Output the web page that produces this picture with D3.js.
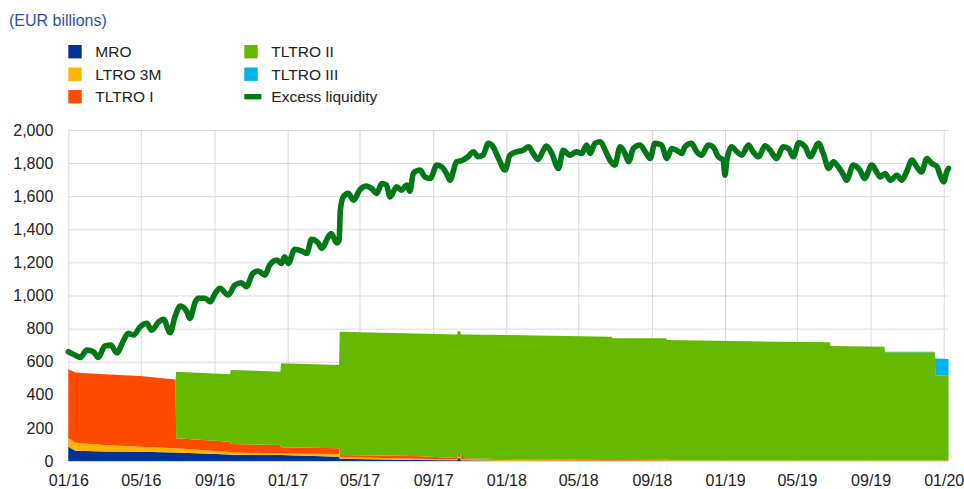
<!DOCTYPE html>
<html>
<head>
<meta charset="utf-8">
<script src="https://cdn.jsdelivr.net/npm/d3@7"></script>
<style>
  body { margin: 0; background: #fff; }
  svg { display: block; font-family: Arial, 'Liberation Sans', sans-serif; }
</style>
</head>
<body>
<div id="chart"></div>
<script>
// excess liquidity
const elDates = [
    '2016-01-01','2016-01-12','2016-01-21','2016-02-01','2016-02-12','2016-02-20','2016-03-02','2016-03-12',
    '2016-03-22','2016-04-02','2016-04-10','2016-04-19','2016-04-30','2016-05-11','2016-05-19','2016-05-31',
    '2016-06-08','2016-06-19','2016-06-27','2016-07-06','2016-07-17','2016-07-22','2016-07-31','2016-08-05',
    '2016-08-16','2016-08-25','2016-09-02','2016-09-10','2016-09-24','2016-10-05','2016-10-16','2016-10-24',
    '2016-11-04','2016-11-13','2016-11-24','2016-12-02','2016-12-14','2016-12-22','2016-12-27','2017-01-02',
    '2017-01-13','2017-01-24','2017-02-02','2017-02-10','2017-02-21','2017-02-27','2017-03-10','2017-03-15',
    '2017-03-24','2017-03-28','2017-03-30','2017-04-04','2017-04-12','2017-04-21','2017-05-02','2017-05-13',
    '2017-05-21','2017-05-30','2017-06-07','2017-06-15','2017-06-21','2017-07-02','2017-07-10','2017-07-19',
    '2017-07-24','2017-07-30','2017-08-10','2017-08-18','2017-08-27','2017-09-07','2017-09-15','2017-09-23',
    '2017-09-29','2017-10-10','2017-10-21','2017-10-29','2017-11-07','2017-11-15','2017-11-23','2017-12-02',
    '2017-12-10','2017-12-19','2017-12-30','2018-01-07','2018-01-18','2018-01-29','2018-02-07','2018-02-15',
    '2018-02-23','2018-03-04','2018-03-09','2018-03-18','2018-03-29','2018-04-06','2018-04-17','2018-04-28',
    '2018-05-07','2018-05-15','2018-05-21','2018-05-29','2018-06-07','2018-06-15','2018-06-23','2018-07-01',
    '2018-07-10','2018-07-18','2018-07-24','2018-08-01','2018-08-12','2018-08-21','2018-08-29','2018-09-06',
    '2018-09-17','2018-09-26','2018-10-04','2018-10-12','2018-10-21','2018-10-26','2018-11-06','2018-11-15',
    '2018-11-23','2018-12-04','2018-12-12','2018-12-21','2018-12-29','2019-01-01','2019-01-04','2019-01-12',
    '2019-01-21','2019-01-29','2019-02-09','2019-02-17','2019-02-26','2019-03-09','2019-03-17','2019-03-28',
    '2019-04-08','2019-04-17','2019-04-25','2019-05-04','2019-05-15','2019-05-23','2019-06-06','2019-06-14',
    '2019-06-23','2019-07-01','2019-07-09','2019-07-18','2019-07-23','2019-08-03','2019-08-14','2019-08-22',
    '2019-09-03','2019-09-11','2019-09-17','2019-09-25','2019-10-04','2019-10-15','2019-10-23','2019-10-31',
    '2019-11-09','2019-11-17','2019-11-25','2019-12-04','2019-12-12','2019-12-21','2019-12-26','2020-01-01',
    '2020-01-06','2020-01-09'
];
const elValues = [
    660, 640, 626, 670, 660, 626, 695, 700,
    654, 727, 771, 761, 811, 832, 791, 841,
    856, 775, 872, 936, 902, 862, 962, 983,
    983, 962, 1013, 1043, 1003, 1063, 1077, 1053,
    1134, 1148, 1123, 1184, 1214, 1194, 1234, 1194,
    1279, 1270, 1254, 1339, 1318, 1285, 1355, 1375,
    1318, 1335, 1516, 1596, 1617, 1576, 1641, 1661,
    1647, 1617, 1677, 1667, 1596, 1657, 1637, 1667,
    1630, 1740, 1758, 1717, 1707, 1788, 1778, 1738,
    1697, 1808, 1818, 1838, 1868, 1838, 1848, 1919,
    1898, 1828, 1758, 1848, 1868, 1878, 1898, 1858,
    1822, 1878, 1903, 1858, 1768, 1878, 1848, 1868,
    1858, 1909, 1858, 1919, 1929, 1878, 1818, 1788,
    1898, 1858, 1808, 1888, 1909, 1868, 1828, 1919,
    1909, 1828, 1888, 1878, 1858, 1898, 1919, 1868,
    1848, 1909, 1898, 1838, 1818, 1727, 1818, 1898,
    1868, 1848, 1909, 1868, 1838, 1905, 1880, 1828,
    1898, 1888, 1838, 1923, 1898, 1838, 1919, 1858,
    1768, 1808, 1778, 1727, 1697, 1788, 1758, 1707,
    1788, 1747, 1717, 1737, 1697, 1727, 1697, 1747,
    1818, 1778, 1747, 1828, 1798, 1778, 1727, 1687,
    1747, 1768
];

// outstanding operations (stacked), dates where the amounts change
const opDates = [
    '2016-01-01','2016-01-13','2016-03-01','2016-04-30','2016-06-28','2016-06-29','2016-09-27','2016-09-28',
    '2016-12-20','2016-12-21','2017-03-28','2017-03-29','2017-08-01','2017-10-11','2017-10-12','2017-10-16',
    '2017-10-17','2018-01-01','2018-06-26','2018-06-27','2018-09-25','2018-09-26','2019-03-26','2019-06-25',
    '2019-06-26','2019-09-24','2019-09-25','2019-12-17','2019-12-18','2020-01-09'
];
const mro    = [86, 62, 58, 56, 52, 52, 40, 38, 36, 36, 26, 14, 6, 4, 16, 16, 4, 2, 1, 1, 2, 2, 2, 2, 2, 2, 2, 2, 2, 2];
const ltro3m = [51, 48, 38, 30, 25, 25, 14, 14, 10, 10, 16, 10, 8, 6, 10, 10, 6, 4, 2, 2, 3, 3, 3, 3, 3, 3, 3, 3, 3, 3];
const tltro1 = [417, 425, 428, 427, 416, 60, 63, 51, 51, 37, 35, 12, 16, 8, 16, 16, 8, 4, 3, 3, 3, 0, 0, 0, 0, 0, 0, 0, 0, 0];
const tltro2 = [0, 0, 0, 0, 0, 403, 407, 447, 443, 507, 503, 745, 741, 746, 743, 743, 746, 751, 745, 735, 733, 726, 716, 712, 690, 685, 652, 652, 513, 510];
const tltro3 = [0, 0, 0, 0, 0, 0, 0, 0, 0, 0, 0, 0, 0, 0, 0, 0, 0, 0, 0, 0, 0, 0, 0, 0, 0, 0, 3, 3, 102, 102];

const seriesKeys = ['MRO', 'LTRO 3M', 'TLTRO I', 'TLTRO II', 'TLTRO III'];
const lineName = 'Excess liquidity';
const unitLabel = '(EUR billions)';
const yTicks = [0, 200, 400, 600, 800, 1000, 1200, 1400, 1600, 1800, 2000];

drawChart();

function drawChart() {

    const width = 964;
    const height = 489;
    const margin = {top: 130, right: 15.5, bottom: 28, left: 68.3};

    const colours = {
        'MRO': '#003299',
        'LTRO 3M': '#ffb400',
        'TLTRO I': '#ff4b00',
        'TLTRO II': '#65b800',
        'TLTRO III': '#00b1ea'
    };
    const lineColour = '#007816';
    const gridColour = '#d9d9d9';
    const textColour = '#222';

    const parse = d3.timeParse('%Y-%m-%d');

    const svg = d3.select('#chart')
        .append('svg')
            .attr('width', width)
            .attr('height', height)
            .attr('viewBox', [0, 0, width, height]);

    // table for the stack
    const rows = opDates.map((d, i) => ({
        date: parse(d),
        'MRO': mro[i],
        'LTRO 3M': ltro3m[i],
        'TLTRO I': tltro1[i],
        'TLTRO II': tltro2[i],
        'TLTRO III': tltro3[i]
    }));
    const stacked = d3.stack().keys(seriesKeys)(rows);

    const el = elDates.map((d, i) => ({date: parse(d), value: elValues[i]}));

    // SCALES
    const x = d3.scaleTime()
        .domain([parse('2016-01-01'), parse('2020-01-09')])
        .range([margin.left, width - margin.right]);
    const y = d3.scaleLinear()
        .domain([0, 2000])
        .range([height - margin.bottom, margin.top]);

    // AXES (ticks double as gridlines)
    const xx = g =>
        g
            .attr('transform', `translate(0,${height - margin.bottom})`)
            .call(d3.axisBottom(x)
                .ticks(d3.timeMonth.every(4))
                .tickFormat(d3.timeFormat('%m/%y'))
                .tickSize(-(height - margin.bottom - margin.top))
                .tickPadding(13.6))
            .call(g => g.select('.domain').remove())
            .call(g => g.selectAll('.tick line')
                .attr('stroke', gridColour))
            .call(g => g.selectAll('.tick text')
                .attr('fill', textColour)
                .style('font-size', '16px'));
    const yx = g =>
        g
            .attr('transform', `translate(${margin.left},0)`)
            .call(d3.axisLeft(y)
                .tickValues(yTicks)
                .tickFormat(d3.format(','))
                .tickSize(-(width - margin.right - margin.left))
                .tickPadding(15))
            .call(g => g.select('.domain').remove())
            .call(g => g.selectAll('.tick line')
                .attr('stroke', gridColour))
            .call(g => g.selectAll('.tick text')
                .attr('fill', textColour)
                .style('font-size', '16px'));

    svg.append('g').call(xx);
    svg.append('g').call(yx);

    // DRAWING TOOLS
    const area = d3.area()
        .x(d => x(d.data.date))
        .y0(d => y(d[0]))
        .y1(d => y(d[1]));
    const line = d3.line()
        .curve(d3.curveMonotoneX)
        .x(d => x(d.date))
        .y(d => y(d.value));

    // stacked areas
    svg.append('g')
            .attr('id', 'areas')
        .selectAll('path')
        .data(stacked)
        .join('path')
            .attr('fill', d => colours[d.key])
            .attr('d', area);

    // excess liquidity line
    svg.append('path')
        .datum(el)
            .attr('fill', 'none')
            .attr('stroke', lineColour)
            .attr('stroke-width', 5.6)
            .attr('stroke-linejoin', 'round')
            .attr('stroke-linecap', 'round')
            .attr('d', line);

    // unit label
    svg.append('text')
        .attr('x', 9)
        .attr('y', 25.5)
        .attr('fill', '#2651a6')
        .style('font-size', '16px')
        .text(unitLabel);

    // LEGEND
    const legendItems = seriesKeys.map(k => ({name: k, type: 'box'}))
        .concat([{name: lineName, type: 'line'}]);
    const legend = svg.append('g')
        .attr('id', 'legend')
        .selectAll('g')
        .data(legendItems)
        .join('g')
            .attr('transform', (d, i) =>
                `translate(${i < 3 ? 68.3 : 244.3},${51.7 + (i % 3) * 22.5})`);

    legend.filter(d => d.type === 'box')
        .append('rect')
            .attr('x', 0)
            .attr('y', -6.7)
            .attr('width', 13.4)
            .attr('height', 13.4)
            .attr('fill', d => colours[d.name]);
    legend.filter(d => d.type === 'line')
        .append('rect')
            .attr('x', 0)
            .attr('y', -2.7)
            .attr('width', 17)
            .attr('height', 5.4)
            .attr('fill', lineColour);
    legend.append('text')
        .attr('x', 27)
        .attr('y', 0)
        .attr('dy', '0.36em')
        .attr('fill', textColour)
        .style('font-size', '15.5px')
        .text(d => d.name);
}
</script>
</body>
</html>
